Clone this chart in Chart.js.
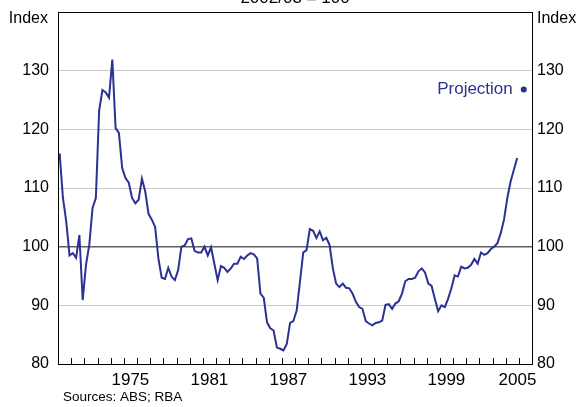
<!DOCTYPE html>
<html><head><meta charset="utf-8">
<script src="https://cdn.jsdelivr.net/npm/chart.js@4"></script>
<style>html,body{margin:0;padding:0;background:#fff;overflow:hidden}#wrap{width:581px;height:407px;position:relative}</style>
</head><body><div id="wrap"><canvas id="c" width="581" height="407"></canvas></div>
<script>
// ---- data ----
const startYear = 1970;          // first quarter = 1970 Q1
const endYear = 2006;
const tradeIndex = [
  115.9,108.3,104.3,98.5, 98.9,98.1,102.0,90.9, 96.9,100.3,106.6,108.3,
  123.2,126.7,126.3,125.4, 131.9,120.2,119.4,113.4, 111.7,110.9,108.3,107.4,
  108.0,111.6,109.4,105.6, 104.6,103.4,98.0,94.7, 94.5,96.4,94.9,94.3,
  96.0,100.0,100.2,101.3, 101.4,99.3,99.0,99.0, 100.0,98.5,99.9,97.1,
  94.3,96.7,96.4,95.7, 96.3,97.1,97.1,98.3, 97.9,98.5,98.9,98.7,
  98.0,92.0,91.3,87.1, 86.1,85.7,82.8,82.6, 82.3,83.4,87.0,87.3,
  89.1,94.0,99.0,99.4, 103.0,102.7,101.5,102.6, 101.1,101.5,100.3,96.3,
  93.7,93.1,93.7,93.0, 92.9,92.0,90.6,89.7, 89.4,87.3,86.9,86.6,
  87.0,87.1,87.4,90.1, 90.2,89.4,90.3,90.7, 92.0,94.1,94.5,94.5,
  94.7,95.8,96.3,95.6, 93.7,93.3,91.1,89.0, 90.0,89.7,91.1,92.9,
  95.1,94.9,96.6,96.3, 96.4,96.9,97.9,97.1, 99.0,98.6,98.9,99.6,
  100.0,100.6,102.3,104.6, 108.3,111.1,113.1,115.1
];
const projectionQuarter = [2005, 2];
const projectionValue = 126.8;
const yMin = 80, yMax = 140;
const yTicks = [80, 90, 100, 110, 120, 130];
const xLabels = ['1975', '1981', '1987', '1993', '1999', '2005'];
const titleText = '2002/03 = 100';
const axisUnit = 'Index';
const sourceText = 'Sources: ABS; RBA';
const projectionText = 'Projection';

// ---- build ----
const qx = (year, q) => year + (q - 0.5) / 4;
const lineData = tradeIndex.map((v, i) => ({ x: qx(startYear + Math.floor(i / 4), (i % 4) + 1), y: v }));
const projData = [{ x: qx(projectionQuarter[0], projectionQuarter[1]), y: projectionValue }];

const BLUE = '#2b3193';
const FONT = "'Liberation Sans', Arial, sans-serif";

const decor = {
  id: 'decor',
  afterDraw(chart) {
    const { ctx, chartArea: a, scales } = chart;
    const xs = scales.x;
    ctx.save();
    // frame
    ctx.strokeStyle = '#000'; ctx.lineWidth = 1;
    ctx.beginPath();
    ctx.moveTo(a.left, a.top + 0.5); ctx.lineTo(a.right, a.top + 0.5);
    ctx.stroke();
    // year tick marks inside bottom axis
    ctx.beginPath();
    for (let y = startYear + 1; y < endYear; y++) {
      const px = Math.round(xs.getPixelForValue(y)) + 0.5;
      ctx.moveTo(px, a.bottom); ctx.lineTo(px, a.bottom - 6);
    }
    ctx.stroke();
    // texts
    ctx.fillStyle = '#000';
    ctx.font = '16px ' + FONT;
    ctx.textBaseline = 'middle';
    ctx.textAlign = 'right';
    ctx.fillText(axisUnit, a.left - 10, a.top + 7);
    ctx.textAlign = 'left';
    ctx.fillText(axisUnit, a.right + 5, a.top + 7);
    ctx.textAlign = 'center';
    ctx.textBaseline = 'alphabetic';
    ctx.font = '17px ' + FONT;
    ctx.fillText(titleText, (a.left + a.right) / 2, 2.5);
    ctx.textAlign = 'left';
    ctx.textBaseline = 'middle';
    ctx.font = '13.5px ' + FONT;
    ctx.fillText(sourceText, 63, 397);
    // projection label
    const p = chart.getDatasetMeta(1).data[0];
    ctx.fillStyle = BLUE;
    ctx.font = '17px ' + FONT;
    ctx.textAlign = 'right';
    ctx.fillText(projectionText, p.x - 11, p.y);
    ctx.restore();
  }
};

const yCommon = {
  type: 'linear', min: yMin, max: yMax,
  afterBuildTicks: s => { s.ticks = yTicks.map(v => ({ value: v })); },
  ticks: {
    color: '#000', font: { size: 16, family: FONT },
    callback: v => String(v)
  }
};
const fixY = w => s => { s.width = w; s.paddingTop = 0; s.paddingBottom = 0; };

new Chart(document.getElementById('c'), {
  data: {
    datasets: [
      { type: 'line', data: lineData, borderColor: BLUE, borderWidth: 2, pointRadius: 0, tension: 0, xAxisID: 'x', yAxisID: 'y' },
      { type: 'scatter', data: projData, backgroundColor: BLUE, borderColor: BLUE, pointRadius: 3, borderWidth: 0, xAxisID: 'x', yAxisID: 'y' }
    ]
  },
  options: {
    responsive: false, animation: false, devicePixelRatio: 1,
    layout: { padding: { top: 12, left: 0, right: 0, bottom: 0 } },
    plugins: { legend: { display: false }, tooltip: { enabled: false } },
    scales: {
      x: {
        type: 'linear', position: 'bottom', min: startYear, max: endYear,
        afterBuildTicks: s => { s.ticks = xLabels.map(l => ({ value: Math.min(+l + 0.5, endYear - 1.1) })); },
        afterFit: s => { s.height = 43; s.paddingLeft = 0; s.paddingRight = 0; },
        grid: { display: false, drawTicks: false, tickLength: 0 },
        border: { display: true, color: '#000', width: 1 },
        ticks: { color: '#000', font: { size: 17, family: FONT }, maxRotation: 0, autoSkip: false, padding: 6,
                 callback: (v, i) => xLabels[i] }
      },
      y: Object.assign({}, yCommon, {
        position: 'left',
        afterFit: fixY(58),
        grid: {
          drawTicks: false,
          color: c => (c.tick.value === 100 ? '#5e5e5e' : (c.tick.value === 80 ? 'rgba(0,0,0,0)' : '#c6c8cc')),
          lineWidth: c => (c.tick.value === 100 ? 1.6 : 1)
        },
        border: { display: true, color: '#000', width: 1 },
        ticks: Object.assign({}, yCommon.ticks, { padding: 9 })
      }),
      y2: Object.assign({}, yCommon, {
        position: 'right',
        afterFit: fixY(49),
        grid: { display: false, drawTicks: false },
        border: { display: true, color: '#000', width: 1 },
        ticks: Object.assign({}, yCommon.ticks, { padding: 5 })
      })
    }
  },
  plugins: [decor]
});
</script>
</body></html>
